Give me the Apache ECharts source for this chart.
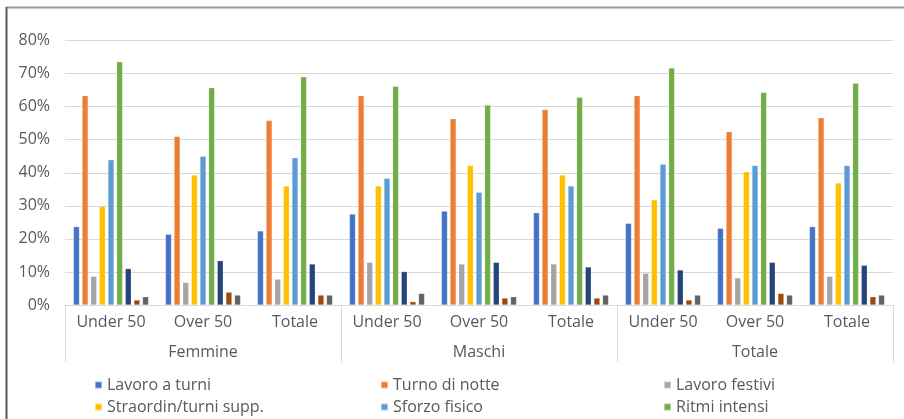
<!DOCTYPE html>
<html>
<head>
<meta charset="utf-8">
<script src="https://cdn.jsdelivr.net/npm/echarts@6/dist/echarts.min.js"></script>
<style>
  html, body { margin: 0; padding: 0; background: #fff; }
  #chart { width: 904px; height: 419px; }
</style>
</head>
<body>
<div id="chart"></div>
<script>
// Sottocategorie (età) e gruppi (sesso)
const categories = ['Under 50', 'Over 50', 'Totale', 'Under 50', 'Over 50', 'Totale', 'Under 50', 'Over 50', 'Totale'];
const groups = ['Femmine', 'Maschi', 'Totale'];
const yTicks = [0, 10, 20, 30, 40, 50, 60, 70, 80];

// Percentuali per indicatore
const lavoroTurni   = [23.7, 21.4, 22.4, 27.5, 28.4, 27.9, 24.7, 23.2, 23.7];
const turnoNotte    = [63.3, 51.0, 55.8, 63.3, 56.3, 59.1, 63.3, 52.4, 56.6];
const lavoroFestivi = [8.7, 6.8, 7.8, 12.9, 12.4, 12.4, 9.6, 8.2, 8.7];
const straordinari  = [29.8, 39.3, 36.0, 36.0, 42.2, 39.3, 31.8, 40.3, 36.9];
const sforzoFisico  = [43.9, 45.0, 44.5, 38.3, 34.1, 36.0, 42.6, 42.2, 42.2];
const ritmiIntensi  = [73.6, 65.7, 69.0, 66.2, 60.5, 62.8, 71.7, 64.3, 67.1];
const reperibilita  = [11.0, 13.4, 12.4, 10.1, 12.9, 11.5, 10.6, 12.9, 12.0];
const turniSpezzati = [1.5, 3.9, 3.0, 1.0, 2.1, 2.1, 1.5, 3.5, 2.5];
const lavoroIsolato = [2.5, 3.0, 3.0, 3.5, 2.5, 3.0, 3.0, 3.0, 3.0];

const seriesDefs = [
  { name: 'Lavoro a turni', data: lavoroTurni, color: '#4472C4' },
  { name: 'Turno di notte', data: turnoNotte, color: '#ED7D31' },
  { name: 'Lavoro festivi', data: lavoroFestivi, color: '#A5A5A5' },
  { name: 'Straordin/turni supp.', data: straordinari, color: '#FFC000' },
  { name: 'Sforzo fisico', data: sforzoFisico, color: '#5B9BD5' },
  { name: 'Ritmi intensi', data: ritmiIntensi, color: '#70AD47' },
  { name: 'Reperibilità', data: reperibilita, color: '#264478' },
  { name: 'Turni spezzati', data: turniSpezzati, color: '#9E480E' },
  { name: 'Lavoro isolato', data: lavoroIsolato, color: '#636363' }
];

const FONT = 'Open Sans';
const TEXT = '#595959';

// Legenda su tre colonne e due righe; una voce per componente
const legendCols = [94, 380, 663];
const legendRows = [377, 399];
const legendItems = seriesDefs.slice(0, 6).map((s, i) => ({
  show: true,
  left: legendCols[i % 3],
  top: legendRows[Math.floor(i / 3)],
  data: [s.name],
  icon: 'rect',
  itemWidth: 7,
  itemHeight: 7,
  selectedMode: false,
  padding: 0,
  textStyle: { fontFamily: FONT, fontSize: 16, lineHeight: 16, color: TEXT }
}));

const chart = echarts.init(document.getElementById('chart'), null, { renderer: 'canvas' });

chart.setOption({
  animation: false,
  backgroundColor: '#ffffff',
  graphic: [
    { type: 'line', shape: { x1: 6, y1: 7.5, x2: 904, y2: 7.5 }, style: { stroke: '#9a9a9a', lineWidth: 2 } },
    { type: 'line', shape: { x1: 6.5, y1: 7, x2: 6.5, y2: 419 }, style: { stroke: '#595959', lineWidth: 2 } }
  ],
  legend: legendItems,
  grid: { left: 65, right: 11, top: 40.5, bottom: 114, containLabel: false },
  xAxis: [
    {
      type: 'category',
      data: categories,
      position: 'bottom',
      axisLine: { show: true, lineStyle: { color: '#d9d9d9', width: 1 } },
      axisTick: { show: false },
      axisLabel: { margin: 9, fontFamily: FONT, fontSize: 16, color: TEXT, interval: 0 }
    },
    {
      type: 'category',
      data: groups,
      position: 'bottom',
      axisLine: { show: false },
      axisTick: { show: true, length: 57, alignWithLabel: false, lineStyle: { color: '#d9d9d9', width: 1 } },
      axisLabel: { margin: 39, fontFamily: FONT, fontSize: 16, color: TEXT, interval: 0 }
    }
  ],
  yAxis: {
    type: 'value',
    min: 0,
    max: yTicks[yTicks.length - 1],
    interval: yTicks[1] - yTicks[0],
    axisLine: { show: false },
    axisTick: { show: false },
    splitLine: { lineStyle: { color: '#d9d9d9', width: 1 } },
    axisLabel: { formatter: '{value}%', margin: 15, fontFamily: FONT, fontSize: 16, color: TEXT }
  },
  series: seriesDefs.map(s => ({
    name: s.name,
    type: 'bar',
    xAxisIndex: 0,
    data: s.data,
    barWidth: 6,
    barGap: '44%',
    itemStyle: { color: s.color, borderColor: 'rgba(255,255,255,0.45)', borderWidth: 0.5 }
  }))
});
</script>
</body>
</html>
